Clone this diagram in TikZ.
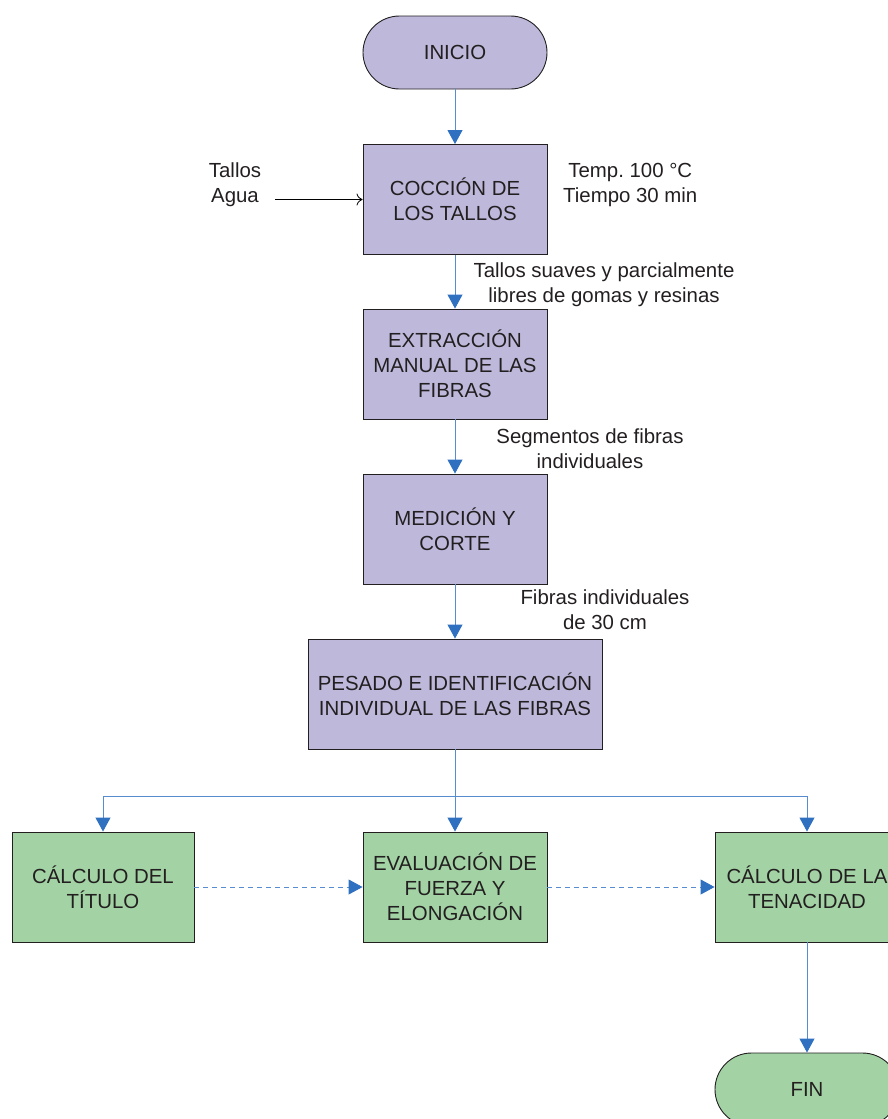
\documentclass[tikz,border=0pt]{standalone}
\usepackage{fontspec}
\setmainfont{Liberation Sans}
\usetikzlibrary{arrows.meta}
\definecolor{purp}{RGB}{190,185,219}
\definecolor{grn}{RGB}{163,211,165}
\definecolor{blu}{RGB}{48,112,192}
\definecolor{blul}{RGB}{88,140,208}
\definecolor{txt}{RGB}{35,31,32}
\frenchspacing
\tikzset{
  box/.style={draw=txt, line width=0.9pt, minimum width=184pt, minimum height=110pt, inner sep=2pt, align=center, font=\fontsize{20.4}{25}\selectfont, text=txt},
  pbox/.style={box, fill=purp},
  gbox/.style={box, fill=grn},
  term/.style={box, minimum height=73pt, rounded corners=36.5pt},
  lab/.style={align=center, font=\fontsize{20.4}{25}\selectfont, text=txt, inner sep=0pt},
  flow/.style={draw=blul, line width=0.9pt, -{Triangle[length=14pt,width=15pt,fill=blu,color=blu]}},
  dflow/.style={flow, dash pattern=on 5pt off 4pt},
  feed/.style={draw=black, line width=0.8pt, -{To[length=6pt,width=12pt]}},
}
\begin{document}
\begin{tikzpicture}[x=1pt,y=-1pt]
\useasboundingbox (0,0) rectangle (888,1119);
\clip (0,0) rectangle (888,1119);
\node[term, fill=purp] (ini) at (455,52.5) {INICIO};
\node[pbox] (coc) at (455,199.5) {COCCIÓN DE\\LOS TALLOS};
\node[pbox] (ext) at (455,364) {EXTRACCIÓN\\MANUAL DE LAS\\FIBRAS};
\node[pbox] (med) at (455,529) {MEDICIÓN Y\\CORTE};
\node[pbox, minimum width=294pt] (pes) at (455,694) {PESADO E IDENTIFICACIÓN\\INDIVIDUAL DE LAS FIBRAS};
\node[gbox, minimum width=182pt] (tit) at (103,887) {CÁLCULO DEL\\TÍTULO};
\node[gbox] (eva) at (455,887) {EVALUACIÓN DE\\FUERZA Y\\ELONGACIÓN};
\node[gbox] (ten) at (807,887) {CÁLCULO DE LA\\TENACIDAD};
\node[term, fill=grn] (fin) at (807,1089.5) {FIN};

\node[lab] (ta) at (235,184.5) {Tallos\\Agua};
\node[lab, anchor=west] (tp) at (563,184.5) {Temp.\ 100 °C\\Tiempo 30 min};
\node[lab] (l1) at (604,284.5) {Tallos suaves y parcialmente\\libres de gomas y resinas};
\node[lab] (l2) at (590,449) {Segmentos de fibras\\individuales};
\node[lab] (l3) at (605,609.5) {Fibras individuales\\de 30 cm};

\coordinate (fa) at (275,199.5);
\draw[feed] (fa) -- (coc.west);
\draw[flow] (ini) -- (coc);
\draw[flow] (coc) -- (ext);
\draw[flow] (ext) -- (med);
\draw[flow] (med) -- (pes);
\coordinate (br) at (455,796);
\draw[flow] (pes) -- (eva);
\draw[flow] (br) -| (tit.north);
\draw[flow] (br) -| (ten.north);
\draw[dflow] (tit) -- (eva);
\draw[dflow] (eva) -- (ten);
\draw[flow] (ten) -- (fin);
\end{tikzpicture}
\end{document}
